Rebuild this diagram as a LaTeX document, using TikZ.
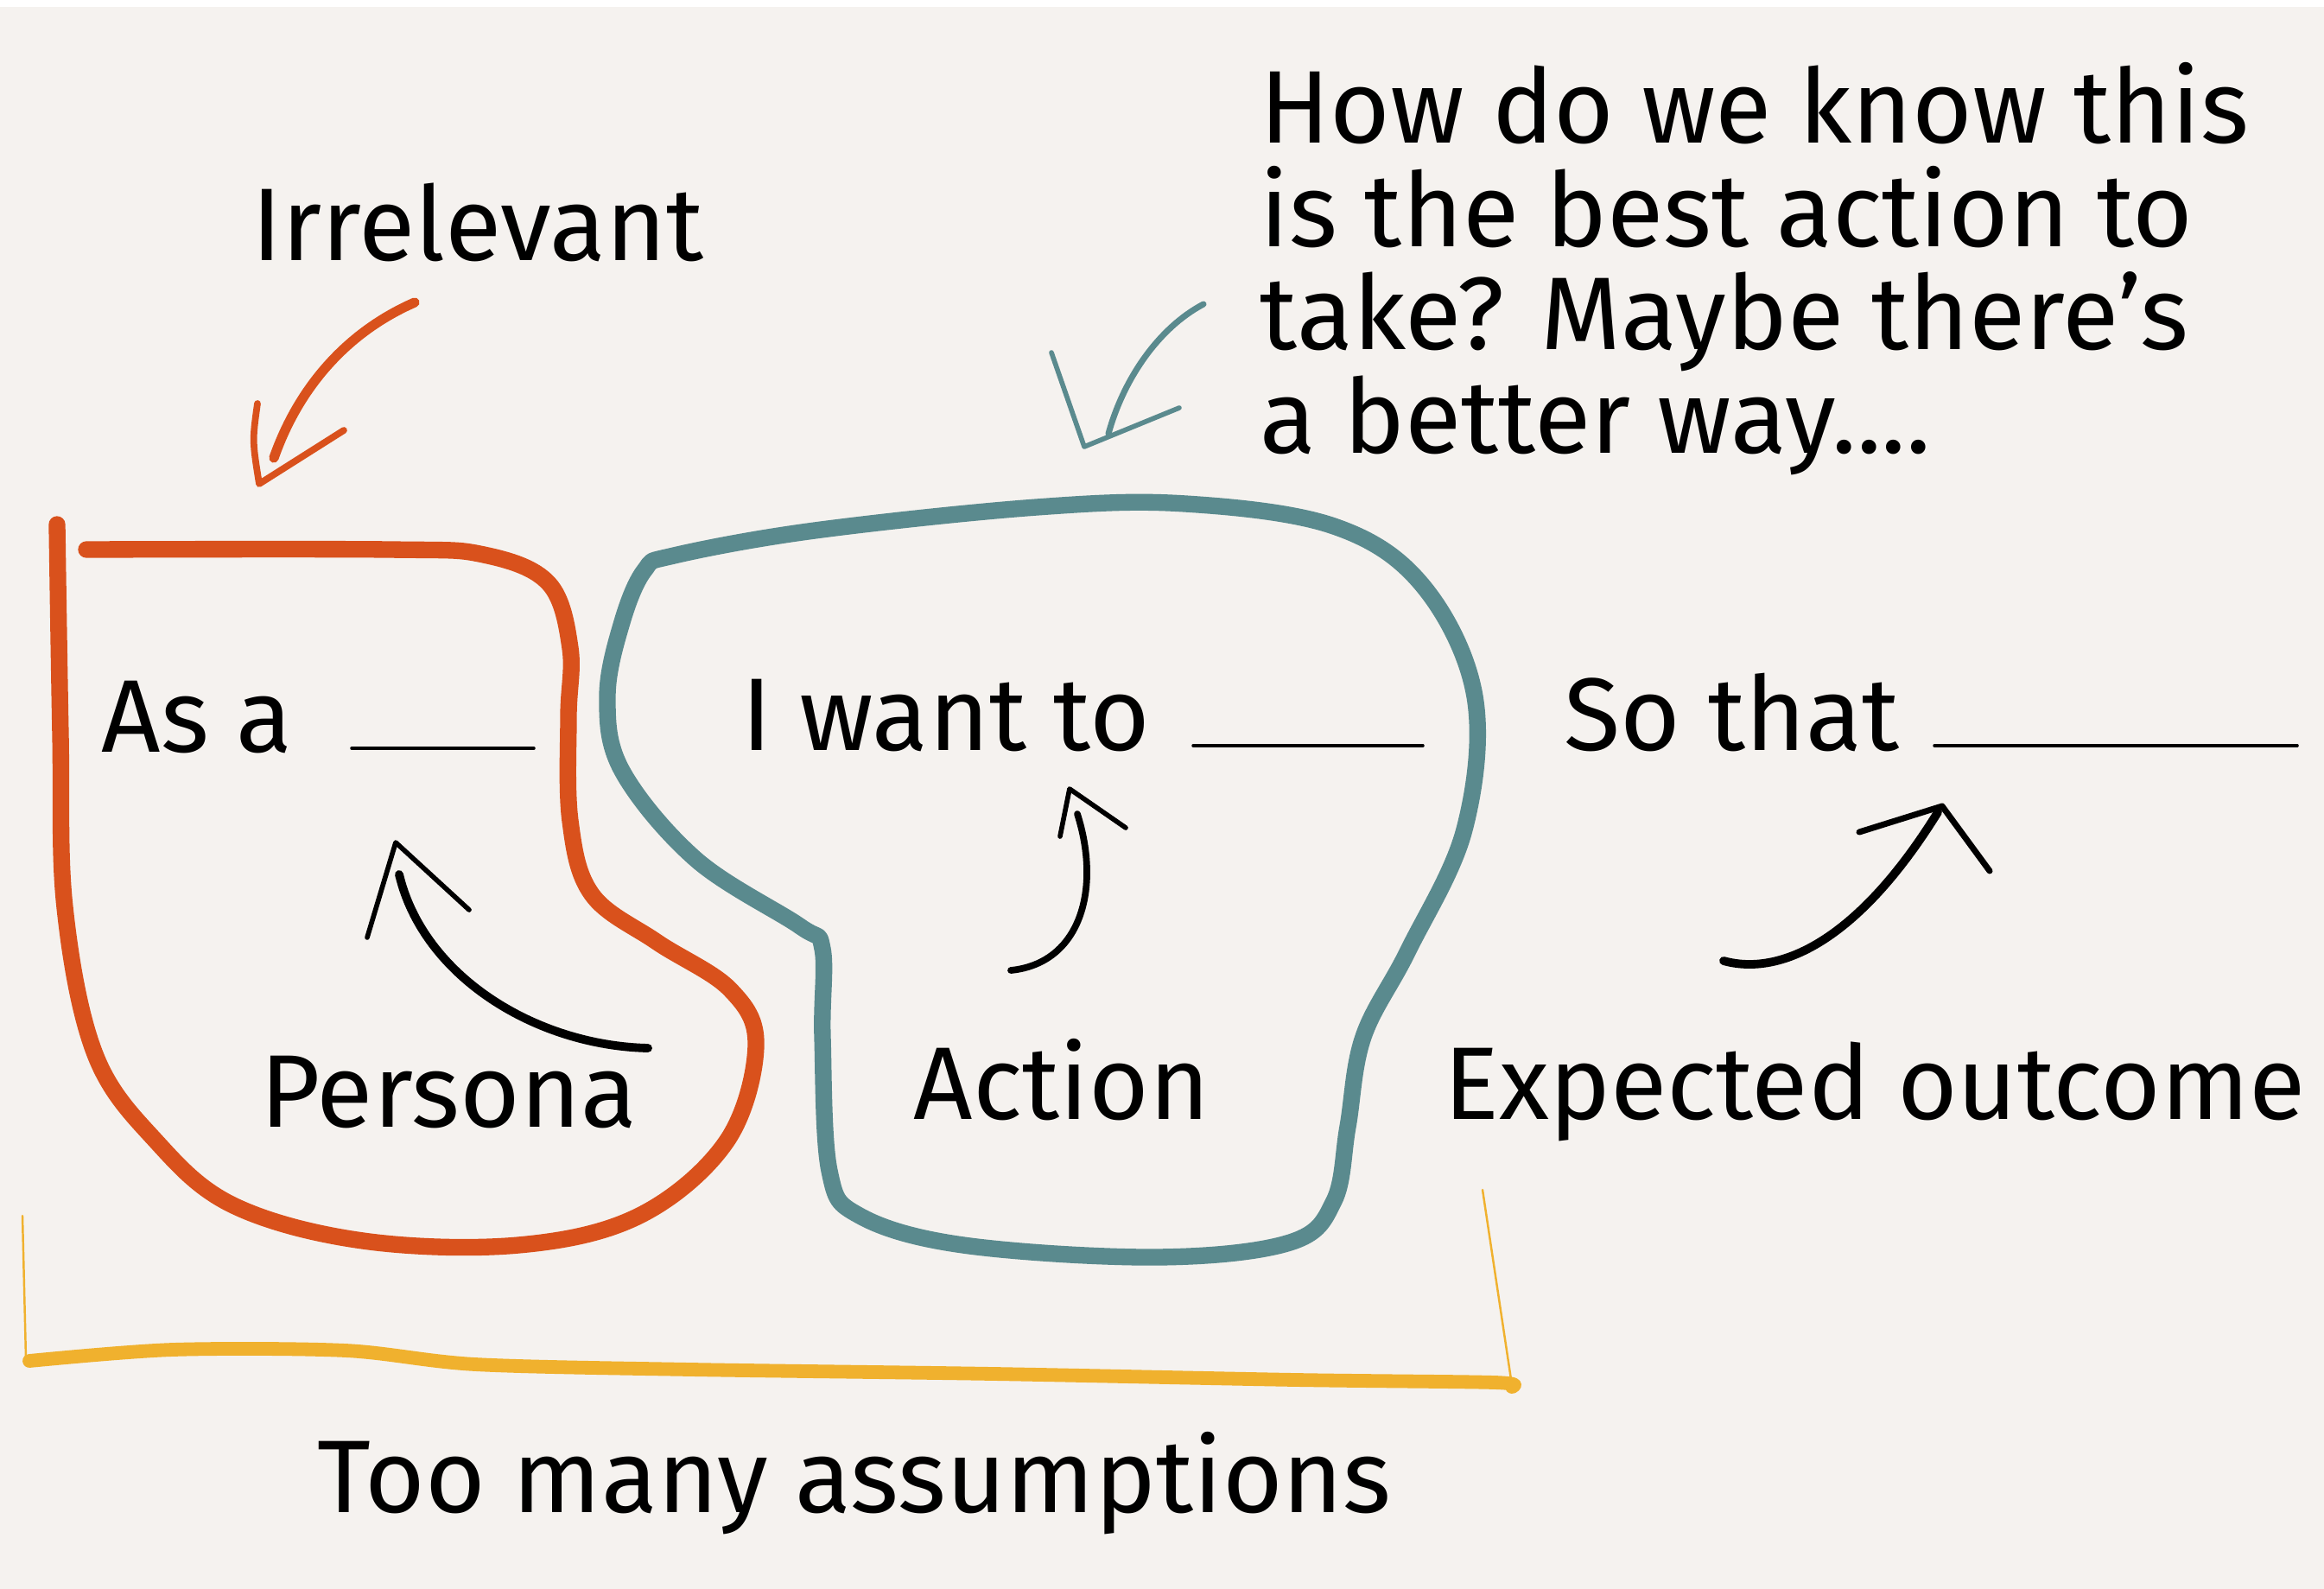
\documentclass[tikz,border=0pt]{standalone}
\usepackage{fontspec}
\setmainfont{Fira Sans}
\usepackage{tikz}

\definecolor{paper}{HTML}{F5F2EF}
\definecolor{personaorange}{HTML}{D9511C}
\definecolor{actionteal}{HTML}{5A8A8E}
\definecolor{bracketyellow}{HTML}{F0B12E}

\begin{document}
\begin{tikzpicture}[x=1cm,y=-1cm,
  hand/.style={font=\fontsize{34}{34}\selectfont, inner sep=0pt},
  pen/.style={line cap=round, line join=round},
  blank/.style={pen, line width=1pt},
  persona line/.style={pen, draw=personaorange, line width=5.5pt},
  action line/.style={pen, draw=actionteal, line width=5.5pt},
  shaft/.style={pen, line width=2.8pt},
  tips/.style={pen, line width=1.6pt}]
\useasboundingbox (0,0) rectangle (26.90,18.39);
\fill[paper] (0,0.08) rectangle (26.90,18.39);

% the two outlines
\draw [persona line] plot [smooth, tension=0.6] coordinates {(0.66,6.07) (0.70,8.5) (0.75,10.5) (1.10,12.2) (1.8,13.2) (2.7,13.95) (4.2,14.36) (6.0,14.41) (7.4,14.07) (8.41,13.21) (8.75,12.1) (8.45,11.45) (7.6,10.9) (6.85,10.35) (6.6,9.5) (6.58,8.3) (6.6,7.5) (6.35,6.75) (5.6,6.42) (4.5,6.36) (1.00,6.36)};
\draw [action line] plot [smooth cycle, tension=0.6] coordinates {(7.80,6.43) (9.43,6.14) (12.0,5.87) (13.72,5.83) (15.44,6.09) (16.47,6.78) (17.07,8.06) (16.95,9.6) (16.3,11.0) (15.78,12.0) (15.6,13.04) (15.44,13.9) (14.93,14.38) (13.38,14.55) (11.15,14.41) (9.95,14.07) (9.6,13.55) (9.52,12.0) (9.52,10.98) (9.26,10.72) (8.06,9.95) (7.2,8.92) (7.03,8.06) (7.2,7.2) (7.46,6.6)};

% bracket
\draw [pen, bracketyellow, line width=0.7pt] (0.26,14.07) -- (0.30,15.72);
\draw [pen, bracketyellow, line width=0.7pt] (17.16,13.77) -- (17.50,16.03);
\draw [pen, bracketyellow, line width=4.5pt] plot [smooth, tension=0.5] coordinates {(0.34,15.75) (2.0,15.62) (4.0,15.63) (5.5,15.79) (8.0,15.85) (11.5,15.90) (15.0,15.97) (17.3,16.0) (17.5,16.05)};

% texts
\node [hand, anchor=base] (irrelevant) at (5.53,3.02) {Irrelevant};
\node [hand, anchor=north west, align=left] (question) at (14.58,0.72) {How do we know this\\is the best action to\\take? Maybe there's\\a better way....};
\node [hand, anchor=base west] (asa) at (1.17,8.70) {As a};
\node [hand, anchor=base west] (wantto) at (8.58,8.68) {I want to};
\node [hand, anchor=base west] (sothat) at (18.10,8.68) {So that};
\node [hand, anchor=base] (persona) at (5.19,13.04) {Persona};
\node [hand, anchor=base] (action) at (12.29,12.95) {Action};
\node [hand, anchor=base] (outcome) at (21.70,12.95) {Expected outcome};
\node [hand, anchor=base] (assumptions) at (9.89,17.50) {Too many assumptions};

% blanks to fill in
\coordinate (asablank) at (4.07,8.66);
\coordinate (wantblank) at (13.81,8.63);
\coordinate (soblank) at (22.39,8.63);
\draw [blank] (asablank) -- ++(2.11,0);
\draw [blank] (wantblank) -- ++(2.66,0);
\draw [blank] (soblank) -- ++(4.20,0);

% arrows
\coordinate (irrtip) at (3.00,5.60);
\draw [shaft, personaorange, line width=3.2pt] (4.80,3.50) .. controls (4.0,3.85) and (3.45,4.5) .. (3.17,5.30);
\draw [tips, personaorange, line width=2.2pt] (2.98,4.67) .. controls (2.92,5.1) .. (irrtip) -- (3.98,4.98);

\coordinate (questtip) at (12.55,5.17);
\draw [shaft, actionteal, line width=2pt] (13.93,3.52) .. controls (13.4,3.8) and (13.0,4.4) .. (12.83,5.02);
\draw [tips, actionteal] (12.17,4.08) -- (questtip) -- (13.65,4.72);

\coordinate (personatip) at (4.58,9.75);
\draw [shaft] (7.50,12.13) .. controls (6.2,12.1) and (4.9,11.3) .. (4.62,10.12);
\draw [tips] (4.25,10.85) -- (personatip) -- (5.43,10.53);

\coordinate (actiontip) at (12.38,9.13);
\draw [shaft, line width=2.2pt] (11.70,11.23) .. controls (12.5,11.15) and (12.75,10.3) .. (12.47,9.42);
\draw [tips] (12.27,9.68) -- (actiontip) -- (13.03,9.58);

\coordinate (outcometip) at (22.48,9.33);
\draw [shaft] (19.95,11.12) .. controls (20.6,11.3) and (21.5,10.9) .. (22.43,9.40);
\draw [tips, line width=2pt] (21.52,9.63) -- (outcometip) -- (23.03,10.08);
\end{tikzpicture}
\end{document}
